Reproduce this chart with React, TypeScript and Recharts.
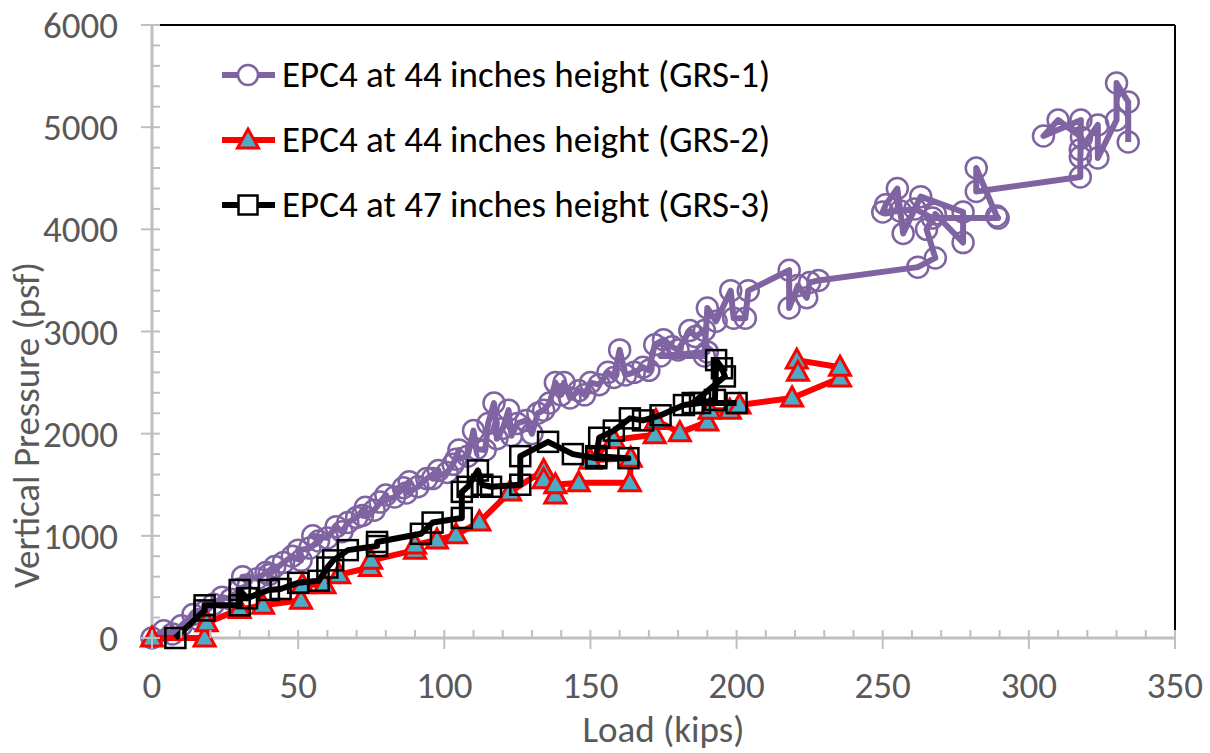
import React from 'react';
import { ScatterChart, Scatter, XAxis, YAxis, ReferenceLine, Legend, Label } from 'recharts';

// [load (kips), vertical pressure (psf)]
const GRS1: number[][] = [
  [0, 0], [4, 70], [7, 40], [10, 120], [14, 230], [18, 260], [16, 180], [21, 330], [24, 400], [27, 380],
  [30, 480], [33, 520], [31, 600], [36, 580], [39, 640], [42, 700], [40, 620], [45, 740], [48, 800], [51, 760],
  [50, 860], [54, 880], [57, 950], [55, 1000], [60, 980], [63, 1090], [65, 1040], [67, 1130], [70, 1180], [73, 1280],
  [72, 1200], [76, 1250], [80, 1400], [78, 1330], [83, 1380], [86, 1470], [88, 1530], [87, 1420], [91, 1480], [94, 1560],
  [98, 1640], [96, 1560], [101, 1620], [103, 1700], [105, 1840], [104, 1750], [108, 1780], [110, 2030], [111, 1850], [114, 1840],
  [115, 2100], [117, 2300], [118, 1950], [120, 2050], [122, 2230], [123, 1980], [125, 2100], [128, 2130], [130, 2000], [132, 2200],
  [134, 2230], [136, 2300], [138, 2500], [140, 2380], [141, 2500], [143, 2350], [146, 2420], [148, 2380], [150, 2500], [153, 2480],
  [156, 2600], [158, 2550], [160, 2820], [162, 2575], [165, 2600], [168, 2650], [170, 2620], [172, 2870], [175, 2920], [178, 2850],
  [180, 2820], [184, 3010], [186, 2950], [189, 3010], [190, 2800], [174, 2760], [189, 2760], [190, 3230], [193, 3100], [198, 3400],
  [199, 3130], [203, 3130], [204, 3400], [218, 3600], [218, 3230], [221, 3450], [224, 3330], [225, 3480], [228, 3500], [262, 3630],
  [268, 3720], [265, 4000], [268, 4150], [277.5, 3870], [277.5, 4170], [263, 4320], [257, 3960], [255, 4400], [251, 4240], [250, 4170],
  [256, 4180], [261, 4200], [267, 4110], [289.5, 4110], [289, 4130], [282, 4600], [282, 4370], [317.6, 4512], [317.6, 4708], [318, 4900],
  [310, 5070], [305, 4913], [317.8, 5070], [317.6, 4780], [323.6, 5021], [323.6, 4698], [330, 5070], [330, 5432], [334, 5246], [334, 4855],
];

const GRS2: number[][] = [
  [0, 0], [18, 0], [18.7, 150], [30, 280], [38, 320], [51, 370], [51.5, 520], [59, 520], [64, 620], [74.6, 690],
  [75, 760], [90, 860], [90, 910], [97.5, 960], [104, 1010], [112, 1135], [122.5, 1430], [134, 1640], [134, 1550], [138, 1400],
  [138, 1500], [146, 1520], [163.5, 1520], [163.8, 1760], [150, 1740], [158, 1940], [172, 1990], [172.4, 2130], [180.6, 2010], [190, 2115],
  [190.8, 2230], [197.7, 2230], [201, 2280], [219, 2350], [235.4, 2545], [235.4, 2650], [220.6, 2720], [221, 2600],
];

const GRS3: number[][] = [
  [8, 0], [18, 270], [18, 320], [30, 320], [30, 470], [32.5, 390], [40, 470], [44, 480], [50, 540], [57, 560],
  [60, 690], [62, 760], [67, 860], [77, 900], [77, 940], [92, 1020], [96, 1130], [106, 1175], [106, 1430], [108, 1480],
  [111.5, 1640], [113, 1500], [116, 1480], [126, 1500], [126, 1780], [135.5, 1920], [144, 1800], [152, 1760], [163, 1760], [152, 1780],
  [153, 1960], [158, 2030], [163.5, 2150], [168, 2130], [174, 2180], [182, 2280], [187.5, 2300], [192.6, 2330], [193, 2720], [195, 2640],
  [196, 2560], [185, 2300], [200, 2300],
];

const SERIES_NAMES = [
  'EPC4 at 44 inches height (GRS-1)',
  'EPC4 at 44 inches height (GRS-2)',
  'EPC4 at 47 inches height (GRS-3)',
];

const X_TICKS = Array.from({ length: 36 }, (_, i) => i * 10);
const Y_TICKS = Array.from({ length: 31 }, (_, i) => i * 200);
const X_MAJOR_STEP = 50;
const Y_MAJOR_STEP = 1000;
const X_TITLE = 'Load (kips)';
const Y_TITLE = 'Vertical Pressure (psf)';

const toPoints = (arr: number[][]) => arr.map(([load, psf]) => ({ load, psf }));

const FONT = 'Carlito, Calibri, Lato, sans-serif';
const FS = 37;
const PURPLE = '#8064a2';
const RED = '#ff0000';
const TEAL = '#4bacc6';
const AXIS_GRAY = '#bfbfbf';
const TEXT_GRAY = '#595959';

const Circle = (p: any) => (
  <circle cx={p.cx} cy={p.cy} r={10.5} fill="none" stroke={PURPLE} strokeWidth={2.5} />
);
const Triangle = (p: any) => (
  <polygon
    points={`${p.cx},${p.cy - 11} ${p.cx + 10.5},${p.cy + 8} ${p.cx - 10.5},${p.cy + 8}`}
    fill={TEAL}
    stroke={RED}
    strokeWidth={3}
  />
);
const Square = (p: any) => (
  <rect x={p.cx - 10} y={p.cy - 10} width={20} height={20} fill="none" stroke="#000" strokeWidth={2.5} />
);

const XTick = (props: any) => {
  const { x, y, payload } = props;
  const v = payload.value;
  const major = v % X_MAJOR_STEP === 0;
  return (
    <g>
      <line x1={x} x2={x} y1={y - 8} y2={major ? y + 11 : y} stroke={AXIS_GRAY} strokeWidth={2} />
      {major && (
        <text x={x} y={y + 60} textAnchor="middle" fontFamily={FONT} fontSize={FS} fill={TEXT_GRAY}>
          {v}
        </text>
      )}
    </g>
  );
};

const YTick = (props: any) => {
  const { x, y, payload } = props;
  const v = payload.value;
  const major = v % Y_MAJOR_STEP === 0;
  return (
    <g>
      <line x1={major ? x - 11 : x} x2={x + 8} y1={y} y2={y} stroke={AXIS_GRAY} strokeWidth={2} />
      {major && (
        <text x={x - 34} y={y + 13} textAnchor="end" fontFamily={FONT} fontSize={FS} fill={TEXT_GRAY}>
          {v}
        </text>
      )}
    </g>
  );
};

const legendIcons = [
  <g key="a">
    <line x1={4} x2={57} y1={15} y2={15} stroke={PURPLE} strokeWidth={6} />
    <circle cx={30} cy={15} r={10} fill="#fff" stroke={PURPLE} strokeWidth={2.5} />
  </g>,
  <g key="b">
    <line x1={4} x2={57} y1={15} y2={15} stroke={RED} strokeWidth={6} />
    <polygon points="30,4 40.5,23 19.5,23" fill={TEAL} stroke={RED} strokeWidth={3} />
  </g>,
  <g key="c">
    <line x1={4} x2={57} y1={15} y2={15} stroke="#000" strokeWidth={6} />
    <rect x={20.5} y={5.5} width={19} height={19} fill="#fff" stroke="#000" strokeWidth={2.5} />
  </g>,
];

const renderLegend = () => (
  <div style={{ fontFamily: FONT, fontSize: FS, color: '#000', lineHeight: 1 }}>
    {SERIES_NAMES.map((name, i) => (
      <div key={name} style={{ display: 'flex', alignItems: 'center', height: 65 }}>
        <svg width={60} height={30} style={{ flex: 'none' }}>
          {legendIcons[i]}
        </svg>
        <span style={{ marginLeft: 4, whiteSpace: 'nowrap' }}>{name}</span>
      </div>
    ))}
  </div>
);

export default function App() {
  return (
    <div style={{ position: 'absolute', left: 0, top: 0, width: 1210, height: 753, background: '#fff' }}>
      <ScatterChart width={1210} height={753} margin={{ top: 25, right: 35, left: 0, bottom: 0 }}>
        <XAxis
          type="number"
          dataKey="load"
          domain={[0, 350]}
          ticks={X_TICKS}
          interval={0}
          height={115}
          tickSize={0}
          tickMargin={0}
          tickLine={false}
          tick={<XTick />}
          axisLine={{ stroke: AXIS_GRAY, strokeWidth: 3 }}
        >
          <Label
            content={(p: any) => {
              const vb = p.viewBox;
              return (
                <text x={vb.x + vb.width / 2} y={vb.y + 104} textAnchor="middle" fontFamily={FONT} fontSize={FS} fill={TEXT_GRAY}>
                  {X_TITLE}
                </text>
              );
            }}
          />
        </XAxis>
        <YAxis
          type="number"
          dataKey="psf"
          domain={[0, 6000]}
          ticks={Y_TICKS}
          interval={0}
          width={152}
          tickSize={0}
          tickMargin={0}
          tickLine={false}
          tick={<YTick />}
          axisLine={{ stroke: AXIS_GRAY, strokeWidth: 3 }}
        >
          <Label
            content={() => (
              <text
                transform="translate(39, 425) rotate(-90)"
                textAnchor="middle"
                fontFamily={FONT}
                fontSize={FS}
                fill={TEXT_GRAY}
              >
                {Y_TITLE}
              </text>
            )}
          />
        </YAxis>
        <ReferenceLine y={6000} stroke="#000" strokeWidth={2} />
        <ReferenceLine x={350} stroke="#000" strokeWidth={2} />
        <Legend
          layout="vertical"
          align="center"
          verticalAlign="middle"
          content={renderLegend}
          wrapperStyle={{ left: 218, top: 42, width: 'auto' }}
        />
        <Scatter
          name={SERIES_NAMES[0]}
          data={toPoints(GRS1)}
          line={{ stroke: PURPLE, strokeWidth: 6, strokeLinejoin: 'round' }}
          lineJointType="linear"
          shape={Circle}
          isAnimationActive={false}
        />
        <Scatter
          name={SERIES_NAMES[1]}
          data={toPoints(GRS2)}
          line={{ stroke: RED, strokeWidth: 6, strokeLinejoin: 'round' }}
          lineJointType="linear"
          shape={Triangle}
          isAnimationActive={false}
        />
        <Scatter
          name={SERIES_NAMES[2]}
          data={toPoints(GRS3)}
          line={{ stroke: '#000', strokeWidth: 6, strokeLinejoin: 'round' }}
          lineJointType="linear"
          shape={Square}
          isAnimationActive={false}
        />
      </ScatterChart>
    </div>
  );
}
